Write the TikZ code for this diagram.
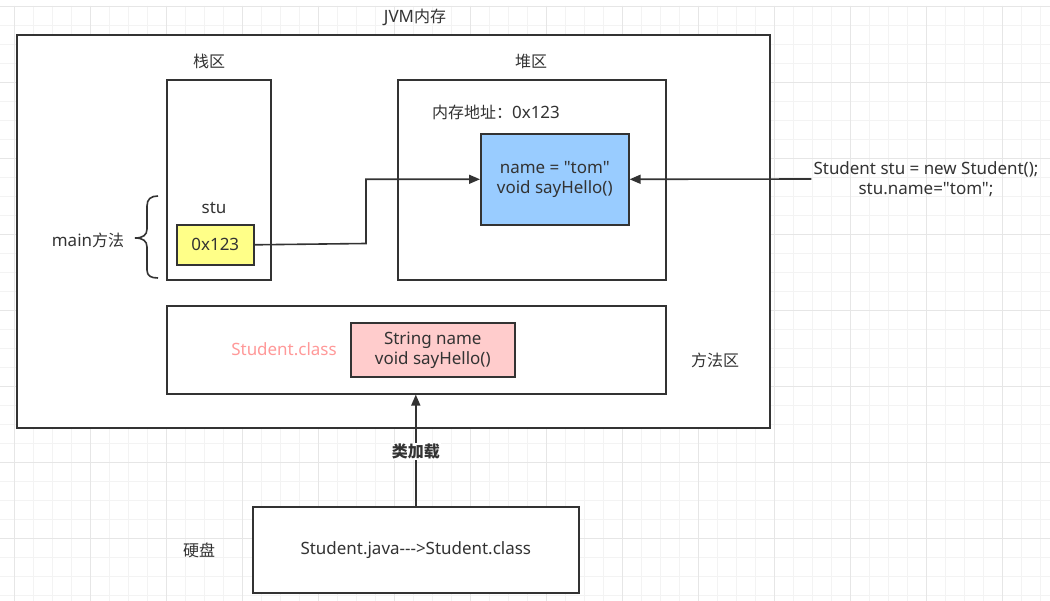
\documentclass[tikz,border=0pt]{standalone}
\usepackage{fontspec}
\setmainfont{Noto Sans}[Scale=1.06, Ligatures=TeXOff]
\newfontfamily\cjk{Noto Sans CJK SC}
\usetikzlibrary{arrows.meta}
\definecolor{ink}{HTML}{333333}
\definecolor{gridminor}{HTML}{F3F3F3}
\definecolor{gridmajor}{HTML}{E6E6E6}
\definecolor{yel}{HTML}{FFFF88}
\definecolor{blu}{HTML}{99CCFF}
\definecolor{pnk}{HTML}{FFCCCC}
\definecolor{pnktext}{HTML}{FF9999}
\begin{document}
\begin{tikzpicture}[x=1pt,y=-1pt,
  every node/.style={font=\fontsize{16}{20}\selectfont, text=ink, inner sep=2pt},
  box/.style={draw=ink, line width=1.6pt, fill=white, anchor=north west},
  conn/.style={draw=ink, line width=1.6pt, -{Triangle[length=11pt,width=9pt]}}]
\useasboundingbox (0,0) rectangle (1050,601);
\fill[white] (0,0) rectangle (1050,601);
% grid
\foreach \xx in {-5,14,...,1050} \draw[gridminor, line width=0.8pt] (\xx,6) -- (\xx,601);
\foreach \yy in {6,25,...,601} \draw[gridminor, line width=0.8pt] (0,\yy) -- (1050,\yy);
\foreach \xx in {14,90,...,1050} \draw[gridmajor, line width=0.9pt] (\xx,6) -- (\xx,601);
\foreach \yy in {6,82,...,601} \draw[gridmajor, line width=0.9pt] (0,\yy) -- (1050,\yy);
% boxes
\node[box, minimum width=753pt, minimum height=393pt] (jvm) at (16,34) {};
\node (jvmlbl) at (415,17) {JVM{\cjk 内存}};
\node[box, minimum width=104pt, minimum height=200pt] (stack) at (166,79) {};
\node (stacklbl) at (209,61) {\cjk 栈区};
\node[box, minimum width=268pt, minimum height=200pt] (heap) at (397,79) {};
\node (heaplbl) at (531,61) {\cjk 堆区};
\node (addrlbl) at (496,112) {{\cjk 内存地址：}0x123};
\node (stulbl) at (214,208) {stu};
\node[box, fill=yel, minimum width=77pt, minimum height=40pt] (addr) at (176,224) {};
\node at (addr.center) {0x123};
\node[box, fill=blu, minimum width=148pt, minimum height=91pt] (obj) at (480,133) {};
\node[align=center] at (obj.center) {name = "tom"\\void sayHello()};
\node[box, minimum width=499pt, minimum height=88pt] (meth) at (166,305) {};
\node[text=pnktext] (clslbl) at (284,349) {Student.class};
\node[box, fill=pnk, minimum width=164pt, minimum height=54pt] (cls) at (350,322) {};
\node[align=center] at (cls.center) {String name\\void sayHello()};
\node (methlbl) at (715,360) {\cjk 方法区};
\node[box, minimum width=326pt, minimum height=86pt] (disk) at (252,506) {};
\node at (disk.center) {Student.java--->Student.class};
\node (disklbl) at (199,550) {\cjk 硬盘};
\node[align=center] (code) at (926,179) {Student stu = new Student();\\stu.name="tom";};
\node (mainlbl) at (88,240) {main{\cjk 方法}};
% brace
\draw[ink, line width=1.6pt] (158,196) .. controls (151,196) and (147,199) .. (147,206) -- (147,229) .. controls (147,235) and (143,238) .. (135,238) .. controls (143,238) and (147,241) .. (147,247) -- (147,270) .. controls (147,276) and (151,278) .. (158,278);
% connectors
\draw[conn] (addr.east) -- (366,243.5) |- (obj.west);
\draw[conn] (code.west) -- (obj.east);
\draw[conn] (disk.north) -- node[pos=0.49, fill=white, inner sep=1pt, font=\fontsize{16}{20}\selectfont\cjk\bfseries] (loadlbl) {类加载} (meth.south -| disk.north);
\end{tikzpicture}
\end{document}
